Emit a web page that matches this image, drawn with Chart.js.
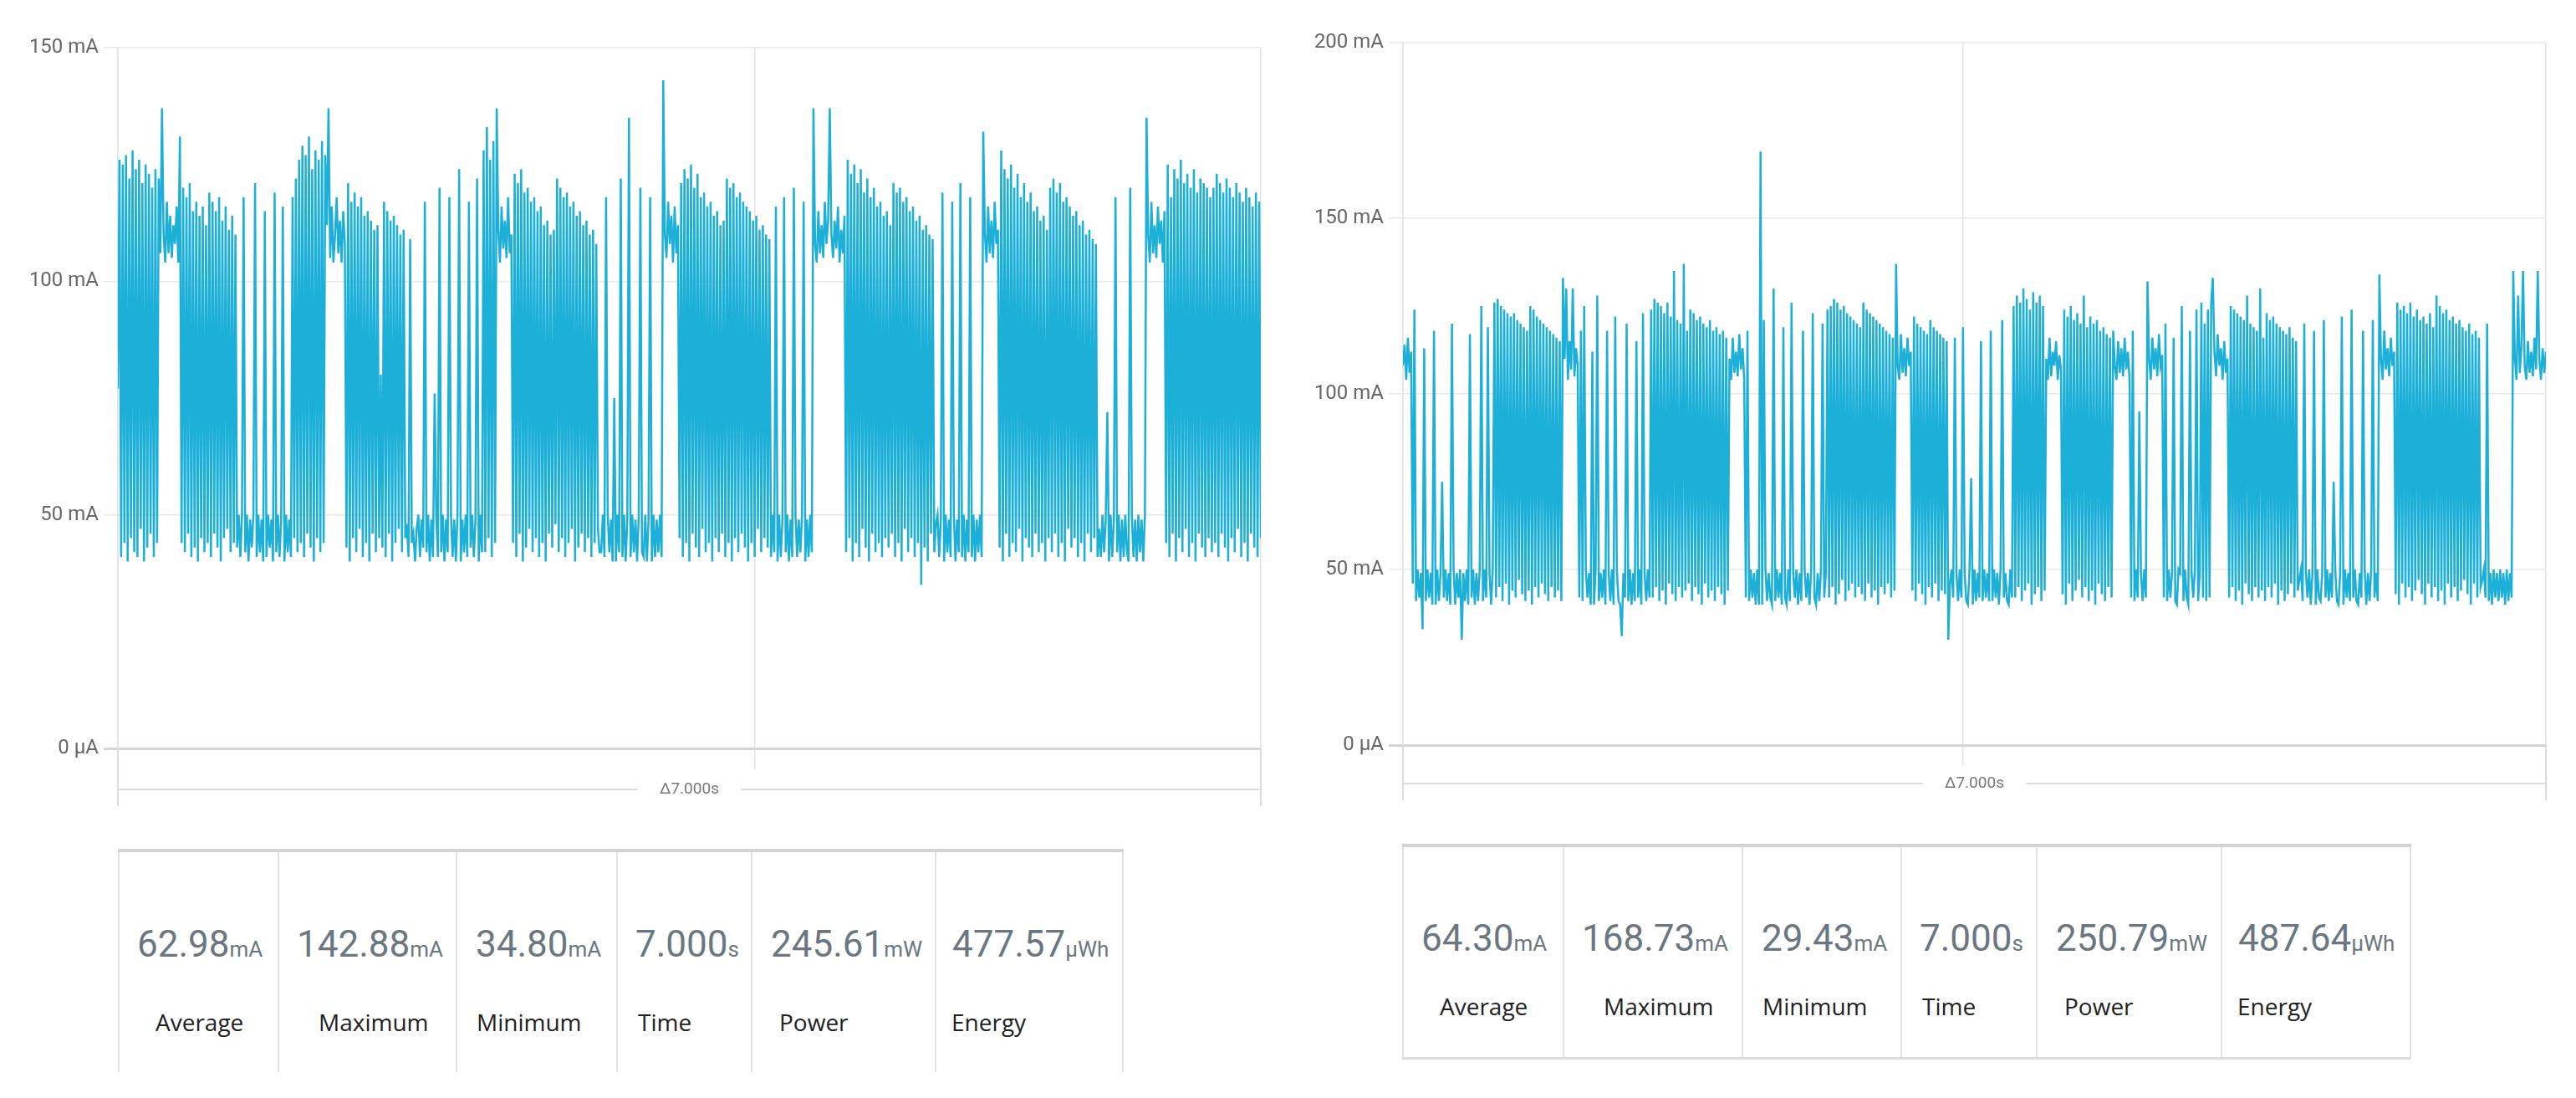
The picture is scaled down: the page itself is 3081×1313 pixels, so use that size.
<!DOCTYPE html>
<html>
<head>
<meta charset="utf-8">
<title>Current profile</title>
<script src="https://cdn.jsdelivr.net/npm/chart.js@4.4.1/dist/chart.umd.min.js"></script>
<style>
  html, body { margin: 0; padding: 0; background: #fff; }
  body { width: 3081px; height: 1313px; position: relative; overflow: hidden; }
  canvas { position: absolute; top: 0; }
  .stats { position: absolute; display: flex; border-top: 4px solid #d3d3d3; box-sizing: border-box; }
  .stats.closed { border-bottom: 3px solid #dcdcdc; }
  .cell { position: relative; border-left: 2px solid #dde2e5; box-sizing: border-box; height: 100%; }
  .cell:last-child { border-right: 2px solid #dde2e5; }
  .val { position: absolute; font-family: Roboto, sans-serif; font-size: 44px; line-height: 44px;
         color: #6b7780; white-space: nowrap; }
  .val small { font-size: 26px; }
  .lab { position: absolute; font-family: "Open Sans", sans-serif; font-size: 28px; line-height: 28px;
         color: #222; white-space: nowrap; }
</style>
</head>
<body>
<canvas id="leftChart" width="1540" height="1000" style="left:0px;width:1540px;height:1000px"></canvas>
<canvas id="rightChart" width="1541" height="1000" style="left:1540px;width:1541px;height:1000px"></canvas>
<div id="leftStats" class="stats"></div>
<div id="rightStats" class="stats closed"></div>

<script>
// ---- data (mA, one sample every 10 ms over 7 s) ----
const leftCurrent = [
  77,126,41,125,44,127,40,122,45,128,42,124,41,126,47,121,40,125,43,123,46,120,41,124,44,122,
  106,137,110,104,117,106,114,105,112,108,116,104,
  131,44,120,42,118,46,121,41,115,43,117,40,114,45,116,42,112,44,119,41,117,46,115,43,118,40,113,45,116,47,111,42,114,44,110,43,
  50,41,50,118,42,50,40,49,43,50,121,41,50,42,49,40,115,41,50,43,49,40,119,42,50,41,49,116,40,50,42,49,41,118,
  45,122,42,126,44,129,41,127,46,131,43,124,40,128,45,126,42,130,44,127,
  112,137,105,116,104,110,118,106,113,104,115,108,
  43,121,40,117,45,119,42,116,47,118,41,114,44,115,40,113,46,111,42,112,45,80,43,117,41,115,46,113,40,114,44,112,47,110,42,111,45,48,41,109,44,46,40,47,
  50,41,49,43,117,42,50,40,49,41,76,50,41,120,42,50,40,49,42,118,50,41,49,40,50,124,40,49,42,50,41,117,43,50,41,49,122,40,50,42,
  128,42,133,45,126,41,130,44,
  137,111,104,116,107,113,105,118,106,110,
  44,123,41,121,46,124,40,119,43,120,47,117,42,118,45,115,41,116,44,112,40,113,46,110,43,111,48,122,42,120,45,118,41,119,44,116,47,117,40,114,43,115,46,112,42,113,45,110,41,111,44,108,47,42,
  42,50,41,118,50,42,49,40,75,40,50,42,122,41,50,40,49,135,41,50,42,49,40,50,120,42,41,50,40,49,118,40,50,41,49,42,50,41,
  143,110,105,117,108,114,104,116,106,112,
  45,121,41,124,44,122,40,125,46,120,43,123,41,118,47,119,42,116,44,117,40,114,45,115,42,112,46,113,41,122,44,120,40,121,45,118,42,119,46,117,43,116,40,115,44,113,41,114,47,111,42,112,45,110,43,109,
  41,50,42,116,40,50,41,49,118,42,50,40,49,41,120,50,41,49,42,50,117,40,49,41,50,42,
  137,108,104,115,106,112,105,117,108,113,137,110,105,113,107,116,104,111,106,114,
  42,126,45,123,40,125,44,121,41,124,47,119,43,122,40,118,46,120,42,116,44,117,41,114,45,115,43,112,46,121,41,119,44,120,40,117,47,118,42,115,45,116,41,113,44,114,35,111,43,112,40,110,46,109,42,48,
  50,41,49,119,40,50,42,49,41,117,50,40,49,42,121,41,50,40,49,42,118,41,50,40,49,42,50,41,
  132,110,104,116,106,113,105,117,108,111,
  43,128,40,124,46,122,41,125,44,120,42,123,47,118,40,121,45,117,43,119,41,115,46,116,42,113,44,114,40,111,45,120,42,122,46,119,41,121,44,117,40,118,47,116,43,114,45,115,41,112,44,113,40,110,46,111,42,109,45,108,41,47,
  41,50,42,49,72,40,50,41,49,118,42,50,40,49,41,50,42,40,120,50,41,49,40,50,42,49,40,50,
  135,110,104,117,106,112,105,116,108,113,104,115,
  44,125,41,118,46,124,40,122,45,126,42,121,47,123,41,120,44,124,40,119,46,122,43,121,41,120,45,118,42,120,
  44,123,41,121,46,119,43,122,40,120,45,118,42,121,47,119,41,117,44,120,40,118,46,116,43,119,41,117,45
];

const rightCurrent = [
  108,114,104,116,106,112,
  46,124,41,50,42,49,33,113,41,50,42,49,40,118,40,50,41,49,75,42,50,41,49,40,120,50,40,49,42,50,30,49,41,50,40,117,42,50,40,49,41,50,125,41,50,42,119,49,40,50,
  126,42,127,45,125,41,124,46,123,40,122,44,123,42,121,47,120,43,119,41,118,44,125,40,124,45,122,42,121,46,120,43,119,41,118,45,117,42,116,44,115,41,
  133,110,130,104,115,107,130,105,113,108,
  42,118,41,125,50,42,49,40,112,40,50,128,41,49,42,50,40,118,49,41,50,40,122,50,41,40,31,49,42,120,41,50,40,49,41,115,42,50,40,123,49,41,50,42,
  124,42,127,45,126,41,125,44,123,40,126,46,122,43,135,41,121,45,120,42,137,44,118,46,124,41,123,45,121,43,122,40,120,46,119,42,121,44,118,41,119,45,117,43,118,40,116,44,
  110,104,116,106,112,105,117,107,113,104,
  42,118,41,50,42,49,40,50,40,169,40,121,50,41,49,42,40,130,41,50,42,49,40,119,42,40,50,41,126,49,42,50,40,49,41,118,50,42,49,40,50,123,42,40,49,41,50,120,42,49,
  124,42,125,45,127,40,126,43,124,47,125,41,123,44,122,46,121,42,120,45,119,43,126,41,124,46,123,42,122,44,121,40,120,45,119,43,118,46,117,42,116,44,
  137,108,104,117,106,113,105,116,108,112,
  44,122,41,120,46,119,43,118,40,117,45,121,42,119,46,118,41,117,44,116,43,115,30,46,
  50,42,116,49,41,50,42,119,49,41,40,50,76,40,50,41,49,42,115,41,50,42,49,41,118,41,50,42,49,40,50,121,42,49,41,40,50,42,
  125,42,128,45,126,41,130,44,127,46,124,40,129,43,126,45,128,41,125,44,
  110,104,116,105,112,108,115,104,111,107,
  43,124,40,122,46,125,41,121,44,123,47,120,42,128,45,119,41,122,44,120,40,121,46,118,43,119,41,117,45,116,42,118,
  108,104,115,106,113,105,116,107,112,104,
  42,118,41,50,42,95,49,41,50,42,
  132,110,104,116,107,113,105,117,108,111,
  42,120,41,50,42,49,116,41,40,50,49,125,41,50,42,40,118,49,42,50,124,41,49,126,42,120,41,124,42,126,
  133,112,105,117,108,113,104,115,106,110,
  42,125,45,124,41,123,44,122,40,121,46,128,43,120,41,119,45,118,42,130,44,116,41,123,45,121,42,122,46,120,40,119,44,118,41,117,43,119,46,116,42,115,44,47,
  50,41,120,49,42,50,40,49,118,40,50,42,41,49,121,42,50,41,49,42,75,50,41,40,49,122,40,50,42,49,41,124,42,50,41,40,49,42,118,50,40,49,41,50,121,42,49,41,
  134,110,104,118,107,113,105,116,108,112,
  43,126,40,124,46,125,42,123,45,126,41,122,44,124,47,121,43,122,40,120,46,123,42,119,45,128,41,125,44,123,40,124,46,121,42,122,45,120,41,121,44,119,47,118,43,120,40,117,46,118,42,116,45,47,
  50,42,120,41,49,40,50,42,49,41,50,42,49,40,50,41,49,42,
  135,110,104,128,106,113,135,108,104,115,106,112,105,116,107,135,110,104,113,106,112
];

const spanSeconds = 7;
const leftTimeGrid = [0, 3.9, 7];
const rightTimeGrid = [0, 3.43, 7];
const leftMax = 150;
const rightMax = 200;

const statLabels = ["Average", "Maximum", "Minimum", "Time", "Power", "Energy"];
const statUnits = ["mA", "mA", "mA", "s", "mW", "µWh"];
const leftStatValues = ["62.98", "142.88", "34.80", "7.000", "245.61", "477.57"];
const rightStatValues = ["64.30", "168.73", "29.43", "7.000", "250.79", "487.64"];
const spanLabel = "Δ7.000s";

// ---- drawing ----
const lineColor = "#1cafd8";

const spanPlugin = {
  id: "spanLine",
  afterDraw(chart, args, opts) {
    const { left, right, bottom } = chart.chartArea;
    const ctx = chart.ctx;
    const y = bottom + opts.offset;
    const mid = (left + right) / 2;
    ctx.save();
    ctx.font = "19px Roboto, sans-serif";
    const half = ctx.measureText(spanLabel).width / 2 + 26;
    ctx.strokeStyle = "#dcdcdc";
    ctx.lineWidth = 2;
    ctx.beginPath();
    ctx.moveTo(left, y);
    ctx.lineTo(mid - half, y);
    ctx.moveTo(mid + half, y);
    ctx.lineTo(right, y);
    ctx.moveTo(left, bottom);
    ctx.lineTo(left, y + 20);
    ctx.moveTo(right, bottom);
    ctx.lineTo(right, y + 20);
    ctx.stroke();
    ctx.fillStyle = "#777";
    ctx.textAlign = "center";
    ctx.textBaseline = "middle";
    ctx.fillText(spanLabel, mid, y);
    ctx.restore();
  },
};

function buildChart(id, values, grid, yMax, axisWidth, pad, spanOffset) {
  const step = spanSeconds / (values.length - 1);
  const points = values.map((v, i) => ({ x: i * step, y: v }));

  new Chart(document.getElementById(id).getContext("2d"), {
    type: "line",
    data: {
      datasets: [
        {
          data: points,
          borderColor: lineColor,
          borderWidth: 2.5,
          pointRadius: 0,
          tension: 0,
          fill: false,
        },
      ],
    },
    options: {
      responsive: false,
      animation: false,
      devicePixelRatio: 1,
      layout: { padding: pad },
      plugins: {
        legend: { display: false },
        tooltip: { enabled: false },
        spanLine: { offset: spanOffset },
      },
      scales: {
        x: {
          type: "linear",
          min: 0,
          max: spanSeconds,
          afterBuildTicks: (axis) => {
            axis.ticks = grid.map((v) => ({ value: v }));
          },
          afterFit: (axis) => {
            axis.height = 25;
          },
          ticks: { display: false },
          border: { display: false },
          grid: { color: "#e4e4e4", lineWidth: 1.5, tickLength: 25 },
        },
        y: {
          min: 0,
          max: yMax,
          afterFit: (axis) => {
            axis.width = axisWidth;
          },
          ticks: {
            stepSize: 50,
            padding: 6,
            color: "#666",
            font: { family: "Roboto", size: 24 },
            callback: (v) => (v === 0 ? "0 µA" : v + " mA"),
          },
          border: { display: true, color: "#e2e2e2", width: 1.5 },
          grid: {
            tickLength: 17,
            color: (c) => (c.tick && c.tick.value === 0 ? "#d4d4d4" : "#e8e8e8"),
            lineWidth: (c) => (c.tick && c.tick.value === 0 ? 3 : 1.5),
          },
        },
      },
    },
    plugins: [spanPlugin],
  });
}

function buildStats(id, values, box, widths, valTop, labTop) {
  const el = document.getElementById(id);
  el.style.left = box.left + "px";
  el.style.top = box.top + "px";
  el.style.height = box.height + "px";
  const valPad = [21, 21, 22, 21, 22, 19];
  const labPad = [43, 47, 23, 24, 32, 18];
  statLabels.forEach((name, i) => {
    const cell = document.createElement("div");
    cell.className = "cell";
    cell.style.width = widths[i] + "px";
    cell.innerHTML =
      `<div class="val" style="left:${valPad[i]}px;top:${valTop}px">${values[i]}<small>${statUnits[i]}</small></div>` +
      `<div class="lab" style="left:${labPad[i]}px;top:${labTop}px">${name}</div>`;
    el.appendChild(cell);
  });
}

buildChart("leftChart", leftCurrent, leftTimeGrid, leftMax, 141,
  { top: 57, right: 32, bottom: 80, left: 0 }, 49);
buildChart("rightChart", rightCurrent, rightTimeGrid, rightMax, 138,
  { top: 51, right: 36, bottom: 84, left: 0 }, 46);

buildStats("leftStats", leftStatValues, { left: 141, top: 1015, height: 267 },
  [191, 213, 192, 161, 220, 226], 88, 189);
buildStats("rightStats", rightStatValues, { left: 1677, top: 1009, height: 258 },
  [192, 214, 190, 162, 221, 228], 87, 176);
</script>
</body>
</html>
